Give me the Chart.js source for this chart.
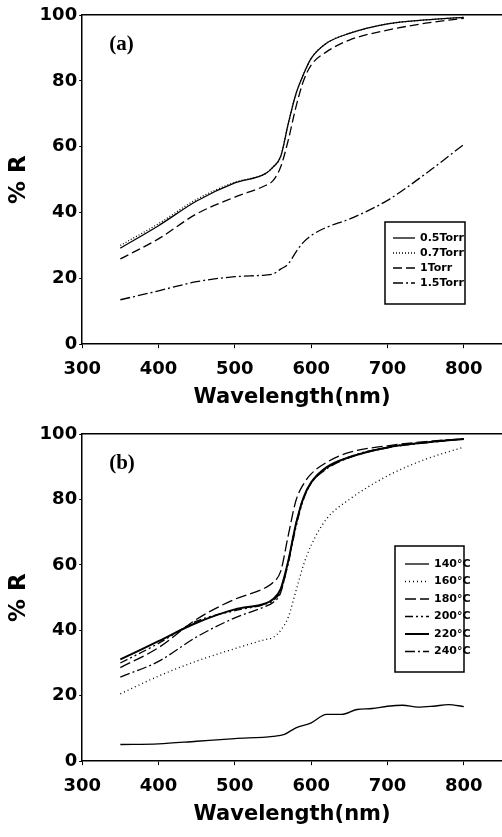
<!DOCTYPE html>
<html>
<head>
<meta charset="utf-8">
<script src="https://cdn.jsdelivr.net/npm/chart.js@4.4.0/dist/chart.umd.min.js"></script>
<style>
  body { margin: 0; background: #fff; }
  .box { position: relative; width: 502px; }
</style>
</head>
<body>
<div class="box" style="height:420px"><canvas id="chartA"></canvas></div>
<div class="box" style="height:417px"><canvas id="chartB"></canvas></div>
<script>
// panel (a) - pressure series
const wlA = [350, 400, 450, 500, 540, 550, 560, 570, 580, 590, 600, 620, 650, 700, 750, 800]
const torr05 = [29.2, 36, 43.5, 49, 51.8, 53.8, 57, 67, 76, 82, 86.8, 91.4, 94.4, 97.3, 98.5, 99.3]
const torr07 = [30, 36.6, 44, 49.2, 51.8, 53.8, 57, 67, 76, 82, 86.8, 91.4, 94.4, 97.3, 98.5, 99.3]
const torr1 = [25.9, 32, 39.6, 44.7, 48.2, 49.7, 53.8, 62, 72, 80, 84.8, 88.8, 92.4, 95.4, 97.5, 99]
const torr15 = [13.5, 16.2, 19, 20.5, 21, 21.3, 22.8, 24.4, 28, 31, 33, 35.5, 38, 43.7, 51.8, 60.7]
const labelsA = ['0.5Torr', '0.7Torr', '1Torr', '1.5Torr']

// panel (b) - temperature series
const wlB = [350, 400, 450, 500, 540, 550, 560, 570, 580, 590, 600, 620, 650, 700, 750, 800]
const c160 = [20.6, 26, 30.6, 34.4, 37.2, 37.8, 40, 44, 52, 60, 66, 74, 80, 87.2, 92.3, 96]
const c180 = [28.6, 34.7, 43.4, 49.5, 53, 54.6, 58, 69, 79.6, 84.7, 87.8, 91.3, 94.4, 96.4, 97.7, 98.5]
const c200 = [30, 36, 42.8, 46, 48, 49, 52, 60.5, 71.5, 80, 85, 89.5, 93, 96, 97.5, 98.5]
const c220 = [31.1, 36.7, 42.3, 46.4, 48.2, 49.5, 52.6, 61.2, 72.4, 80.6, 85.2, 89.8, 92.9, 95.9, 97.4, 98.5]
const c240 = [25.7, 30.5, 38, 43.8, 47.3, 48.5, 51.5, 61, 72.5, 80.5, 85, 89.3, 92.8, 95.8, 97.3, 98.5]
const wl140 = [350, 400, 450, 500, 550, 565, 580, 600, 620, 640, 660, 680, 700, 720, 740, 760, 780, 800]
const c140 = [5.1, 5.3, 6.1, 6.9, 7.6, 8.2, 10.2, 11.7, 14.3, 14.3, 15.8, 16.1, 16.8, 17.1, 16.5, 16.8, 17.3, 16.7]
const labelsB = ['140°C', '160°C', '180°C', '200°C', '220°C', '240°C']

const xTicks = [300, 400, 500, 600, 700, 800]
const yTicks = [0, 20, 40, 60, 80, 100]

function pts(xs, ys) {
    return xs.map((x, i) => ({x: x, y: ys[i]}))
}

function line(label, xs, ys, dash, width) {
    return {
        label: label,
        data: pts(xs, ys),
        borderColor: '#000',
        borderWidth: width || 1.3,
        borderDash: dash,
        pointRadius: 0,
        fill: false,
        cubicInterpolationMode: 'monotone'
    }
}

// legend box drawn inside the plot, like the original
const boxLegend = {
    id: 'boxLegend',
    afterDatasetsDraw(chart, args, o) {
        const ctx = chart.ctx
        ctx.save()
        ctx.strokeStyle = '#000'
        ctx.lineWidth = 1.5
        ctx.strokeRect(o.x, o.y, o.w, o.h)
        ctx.font = o.font
        ctx.fillStyle = '#000'
        ctx.textBaseline = 'middle'
        chart.data.datasets.forEach((ds, i) => {
            const y = o.y + o.first + i * o.row
            ctx.beginPath()
            ctx.lineWidth = ds.borderWidth
            ctx.setLineDash(ds.borderDash || [])
            ctx.moveTo(o.x + o.pad, y)
            ctx.lineTo(o.x + o.pad + o.sample, y)
            ctx.stroke()
            ctx.setLineDash([])
            ctx.fillText(ds.label, o.x + o.pad + o.sample + 5, y)
        })
        // panel tag
        ctx.font = 'bold 21px "Liberation Serif"'
        ctx.textBaseline = 'alphabetic'
        ctx.fillText(o.tag, chart.chartArea.left + 27, chart.chartArea.top + 35)
        ctx.restore()
    }
}

function makeChart(id, datasets, legendOpts, padTop) {
    const tickFont = {family: 'DejaVu Sans', weight: 'bold', size: 18}
    return new Chart(document.getElementById(id), {
        type: 'line',
        data: {datasets: datasets},
        plugins: [boxLegend],
        options: {
            animation: false,
            responsive: true,
            maintainAspectRatio: false,
            layout: {padding: {left: 5, right: 0, top: padTop, bottom: 10}},
            plugins: {
                legend: {display: false},
                tooltip: {enabled: false},
                boxLegend: legendOpts
            },
            scales: {
                x: {
                    type: 'linear',
                    min: 300,
                    max: 850,
                    afterBuildTicks: s => { s.ticks = xTicks.map(v => ({value: v})) },
                    ticks: {font: tickFont, color: '#000', padding: 10, maxRotation: 0},
                    grid: {drawOnChartArea: false, drawTicks: true, tickLength: 4, color: '#000'},
                    border: {color: '#000', width: 1.5},
                    title: {
                        display: true,
                        text: 'Wavelength(nm)',
                        color: '#000',
                        font: {family: 'DejaVu Sans', weight: 'bold', size: 21},
                        padding: {top: -5, bottom: 0}
                    }
                },
                x2: {
                    type: 'linear',
                    position: 'top',
                    min: 300,
                    max: 850,
                    ticks: {display: false},
                    grid: {display: false},
                    border: {color: '#000', width: 1.5}
                },
                y: {
                    min: 0,
                    max: 100,
                    afterBuildTicks: s => { s.ticks = yTicks.map(v => ({value: v})) },
                    ticks: {font: tickFont, color: '#000', padding: 2},
                    grid: {drawOnChartArea: false, drawTicks: true, tickLength: 3, color: '#000'},
                    border: {color: '#000', width: 1.5},
                    title: {
                        display: true,
                        text: '% R',
                        color: '#000',
                        font: {family: 'DejaVu Sans', weight: 'bold', size: 23},
                        padding: {top: 0, bottom: 5}
                    }
                }
            }
        }
    })
}

makeChart('chartA', [
    line(labelsA[0], wlA, torr05, []),
    line(labelsA[1], wlA, torr07, [1, 2]),
    line(labelsA[2], wlA, torr1, [9, 4]),
    line(labelsA[3], wlA, torr15, [10, 3, 2, 3])
], {x: 385, y: 222, w: 80, h: 82, first: 16, row: 15, pad: 8, sample: 22, font: 'bold 11px "DejaVu Sans"', tag: '(a)'}, 7)

makeChart('chartB', [
    line(labelsB[0], wl140, c140, []),
    line(labelsB[1], wlB, c160, [1, 3]),
    line(labelsB[2], wlB, c180, [11, 4]),
    line(labelsB[3], wlB, c200, [8, 3, 2, 3, 2, 3]),
    line(labelsB[4], wlB, c220, [], 2),
    line(labelsB[5], wlB, c240, [10, 3, 2, 3])
], {x: 395, y: 126, w: 69, h: 126, first: 18, row: 17.5, pad: 10, sample: 24, font: 'bold 11px "DejaVu Sans"', tag: '(b)'}, 6)
</script>
</body>
</html>
